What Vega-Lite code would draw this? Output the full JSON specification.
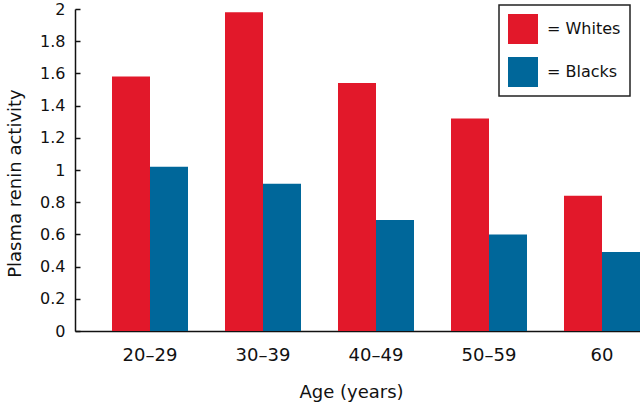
{
  "$schema": "https://vega.github.io/schema/vega-lite/v6.json",
  "width": 565,
  "height": 322,
  "autosize": "none",
  "padding": {"left": 75, "top": 9, "right": 0, "bottom": 71},
  "background": "white",
  "config": {"view": {"stroke": null}, "font": "DejaVu Sans"},
  "data": {
    "values": [
      {"age": "20–29", "group": "Whites", "value": 1.58},
      {"age": "20–29", "group": "Blacks", "value": 1.02},
      {"age": "30–39", "group": "Whites", "value": 1.98},
      {"age": "30–39", "group": "Blacks", "value": 0.915},
      {"age": "40–49", "group": "Whites", "value": 1.54},
      {"age": "40–49", "group": "Blacks", "value": 0.69},
      {"age": "50–59", "group": "Whites", "value": 1.32},
      {"age": "50–59", "group": "Blacks", "value": 0.60},
      {"age": "60", "group": "Whites", "value": 0.84},
      {"age": "60", "group": "Blacks", "value": 0.49}
    ]
  },
  "mark": {"type": "bar"},
  "encoding": {
    "x": {
      "field": "age",
      "type": "nominal",
      "sort": null,
      "scale": {"paddingInner": 0.3274, "paddingOuter": 0.1637, "align": 1},
      "axis": {
        "title": "Age (years)",
        "labelAngle": 0,
        "ticks": false,
        "tickSize": 0,
        "domainColor": "#111",
        "domainWidth": 1.5,
        "labelFontSize": 18,
        "labelPadding": 29,
        "labelBaseline": "alphabetic",
        "labelColor": "#111",
        "titleFontSize": 18,
        "titleFontWeight": "normal",
        "titleColor": "#111",
        "titleX": 276,
        "titleY": 66,
        "titleBaseline": "alphabetic"
      }
    },
    "xOffset": {"field": "group", "sort": ["Whites", "Blacks"]},
    "y": {
      "field": "value",
      "type": "quantitative",
      "scale": {"domain": [0, 2]},
      "axis": {
        "title": "Plasma renin activity",
        "values": [0, 0.2, 0.4, 0.6, 0.8, 1, 1.2, 1.4, 1.6, 1.8, 2],
        "format": "~g",
        "grid": false,
        "domainColor": "#111",
        "domainWidth": 1.5,
        "tickColor": "#111",
        "tickWidth": 1.5,
        "tickSize": -5,
        "labelPadding": 15,
        "labelFontSize": 16,
        "labelColor": "#111",
        "titleFontSize": 18,
        "titleFontWeight": "normal",
        "titleColor": "#111",
        "titleX": -69,
        "titleY": 174,
        "titleBaseline": "top",
        "titleAngle": -90,
        "titleAlign": "center"
      }
    },
    "color": {
      "field": "group",
      "type": "nominal",
      "scale": {"domain": ["Whites", "Blacks"], "range": ["#e2182a", "#00679a"]},
      "legend": {
        "orient": "none",
        "legendX": 424,
        "legendY": -4,
        "title": null,
        "symbolType": "square",
        "symbolSize": 900,
        "symbolStrokeWidth": 0,
        "symbolOpacity": 1,
        "labelExpr": "'= ' + datum.label",
        "labelFontSize": 16,
        "labelColor": "#111",
        "labelOffset": 9,
        "rowPadding": 13,
        "padding": 9,
        "strokeColor": "#222",
        "fillColor": "white",
        "encode": {"legend": {"update": {"strokeWidth": {"value": 1.5}}}}
      }
    }
  }
}
